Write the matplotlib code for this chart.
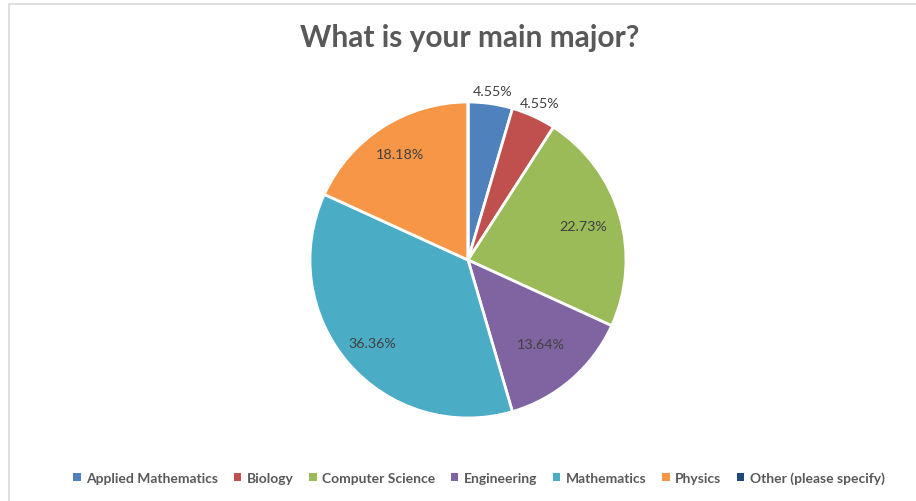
import numpy as np
import matplotlib
matplotlib.use("Agg")
import matplotlib.pyplot as plt
from matplotlib.patches import Patch, Rectangle

# survey answers, share of respondents in percent
majors = ["Applied Mathematics", "Biology", "Computer Science", "Engineering",
          "Mathematics", "Physics", "Other (please specify)"]
shares = [4.55, 4.55, 22.73, 13.64, 36.36, 18.18, 0.0]
colors = ["#4F81BD", "#C0504D", "#9BBB59", "#8064A2", "#4BACC6", "#F79646", "#1F497D"]
# how far out each label sits (fraction of radius), small slices go outside
label_dist = [1.08, 1.09, 0.76, 0.70, 0.80, 0.80, 0.0]

plt.rcParams["font.family"] = ["Lato", "DejaVu Sans"]

W, H = 916, 502
fig = plt.figure(figsize=(W / 100, H / 100), dpi=100)
fig.patch.set_facecolor("white")

# thin chart-area border
fig.patches.append(Rectangle((9 / W, -0.1), 1.2, 1 - 5 / H + 0.1, transform=fig.transFigure,
                             fill=False, edgecolor="#d9d9d9", linewidth=1.2))

cx, cy, r = 468, H - 261, 158
ax = fig.add_axes([(cx - r) / W, (cy - r) / H, 2 * r / W, 2 * r / H])
wedges, _ = ax.pie(shares, colors=colors, startangle=90, counterclock=False,
                   radius=1.0, wedgeprops=dict(edgecolor="white", linewidth=2))
ax.set_xlim(-1, 1)
ax.set_ylim(-1, 1)
ax.set_aspect("equal")
ax.axis("off")

for w, val, d in zip(wedges, shares, label_dist):
    if val <= 0:
        continue
    mid = np.deg2rad((w.theta1 + w.theta2) / 2)
    ax.text(d * np.cos(mid), d * np.sin(mid), f"{val:.2f}%", ha="center", va="center",
            fontsize=10.3, color="#404040", clip_on=False)

fig.text(470 / W, 1 - 38 / H, "What is your main major?", ha="center", va="center",
         fontsize=21.5, fontweight="bold", color="#595959")

handles = [Patch(facecolor=c, edgecolor="none") for c in colors]
leg = fig.legend(handles, majors, loc="center", bbox_to_anchor=(479 / W, 1 - 479 / H),
                 ncol=7, frameon=False, handlelength=0.55, handleheight=0.55,
                 handletextpad=0.4, columnspacing=1.1,
                 prop=dict(size=10, weight="bold"))
for t in leg.get_texts():
    t.set_color("#595959")

fig.savefig("out.png", dpi=100, facecolor="white")
